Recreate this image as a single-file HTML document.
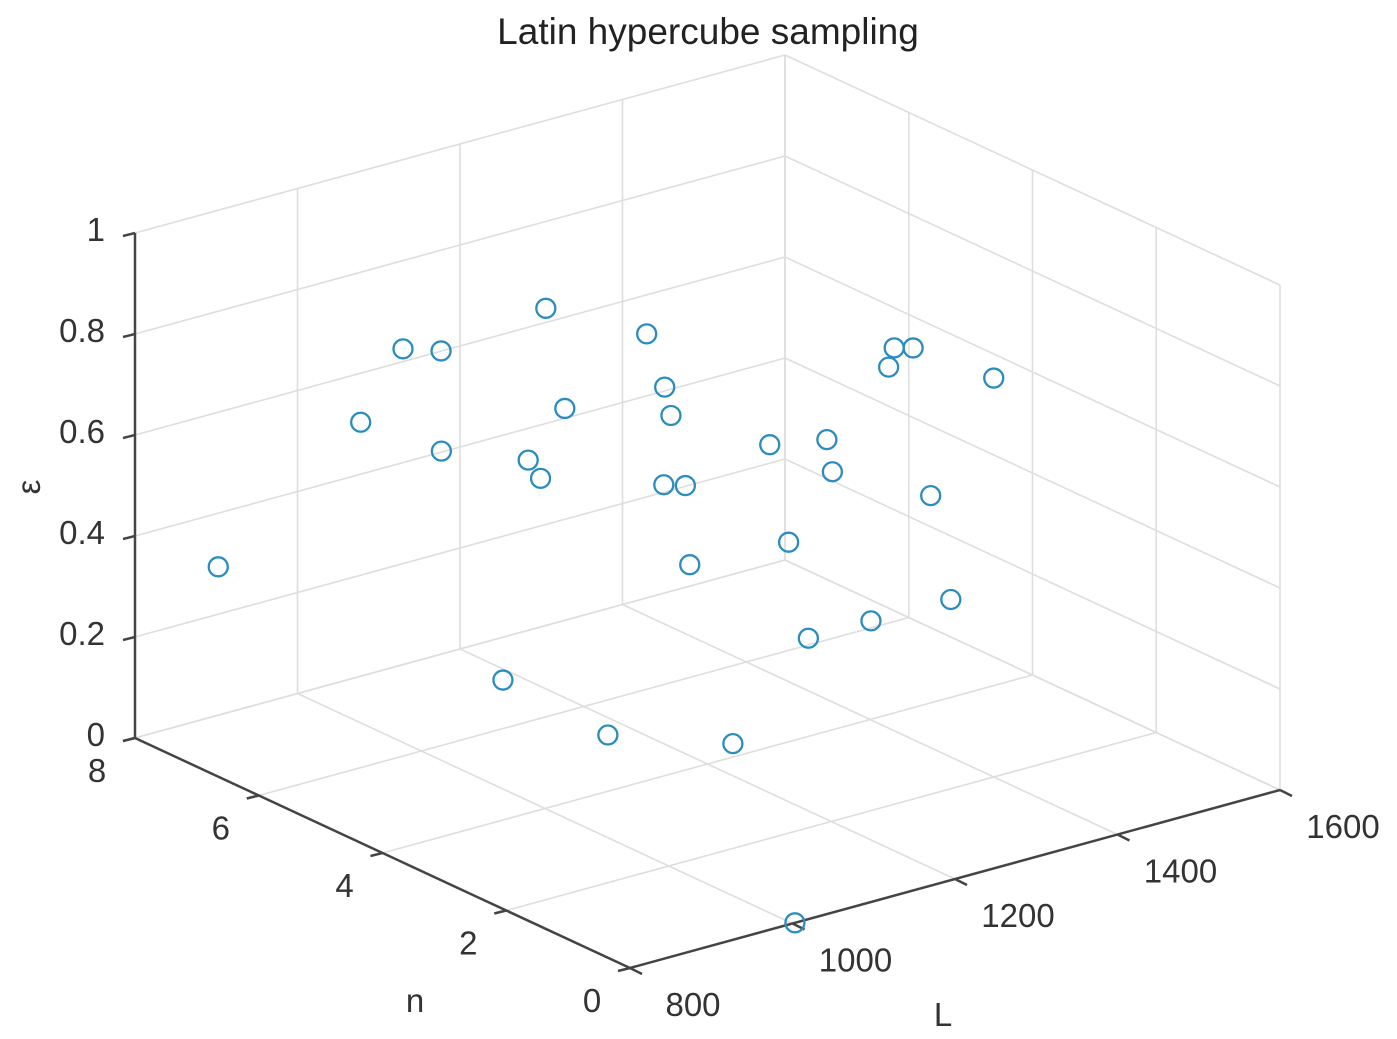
<!DOCTYPE html>
<html><head><meta charset="utf-8"><style>
body{margin:0;background:#fff}
svg{display:block;font-family:"Liberation Sans",sans-serif}
</style></head><body>
<svg id="chart" width="1397" height="1039" viewBox="0 0 1397 1039">
<rect width="1397" height="1039" fill="#fff"/>
<text x="708" y="44" font-size="37" fill="#222" text-anchor="middle">Latin hypercube sampling</text>
<g id="grid"></g><g id="axes"></g><g id="pts"></g>
</svg>
<script>
const lTicks=[800,1000,1200,1400,1600];
const nTicks=[0,2,4,6,8];
const eTicks=[0,0.2,0.4,0.6,0.8,1];
const eLabels=["0","0.2","0.4","0.6","0.8","1"];
const Lvals=[1001,1008,933,1247,895,842,933,1391,1155,827,1025,933,1386,872,904,1368,1286,1506,1178,1247,1514,1362,1400,1231,1469,1523,1050,1131,986,1018,1003];
const Nvals=[4,6.4,4.8,5.6,5.6,3.6,2.8,7.2,4,2,4.4,1.2,6.8,7.6,0.4,5.2,3.2,6,2.4,1.6,4.8,3.2,2,0.8,3.6,5.6,0.4,6.4,2.8,1.2,0];
const Evals=[0.99,0.77,0.89,0.74,0.72,0.80,0.89,0.48,0.71,0.88,0.62,0.83,0.31,0.33,0.73,0.49,0.65,0.33,0.54,0.94,0.64,0.76,0.79,0.70,0.23,0.05,0.52,0.06,0.22,0.28,0.0];
const NS='http://www.w3.org/2000/svg';
function P(L,n,e){const a=(L-800)/800,b=n/8;return [630+650*a-495*b,968-178*a-230*b-505*e];}
function line(g,p,q,c,w,name){const l=document.createElementNS(NS,'line');l.setAttribute('x1',p[0]);l.setAttribute('y1',p[1]);l.setAttribute('x2',q[0]);l.setAttribute('y2',q[1]);l.setAttribute('stroke',c);l.setAttribute('stroke-width',w);


g.appendChild(l);}
function text(g,x,y,s,anchor,name,fs){const t=document.createElementNS(NS,'text');t.setAttribute('x',x);t.setAttribute('y',y);t.setAttribute('font-size',fs||'33');t.setAttribute('fill','#333');t.setAttribute('text-anchor',anchor);t.textContent=s;


g.appendChild(t);return t;}
const grid=document.getElementById('grid'),axes=document.getElementById('axes'),pts=document.getElementById('pts');
const gc='#dedede';
lTicks.forEach(L=>{line(grid,P(L,0,0),P(L,8,0),gc,1.6,'floor-grid-l');line(grid,P(L,8,0),P(L,8,1),gc,1.6,'wall-grid-l');});
nTicks.forEach(n=>{line(grid,P(800,n,0),P(1600,n,0),gc,1.6,'floor-grid-n');line(grid,P(1600,n,0),P(1600,n,1),gc,1.6,'wall-grid-n');});
eTicks.forEach(e=>{line(grid,P(800,8,e),P(1600,8,e),gc,1.6,'wall-grid-e');line(grid,P(1600,8,e),P(1600,0,e),gc,1.6,'side-grid-e');});
const ac='#444';
line(axes,P(800,0,0),P(1600,0,0),ac,2.5,'l-axis');
line(axes,P(800,0,0),P(800,8,0),ac,2.5,'n-axis');
line(axes,P(800,8,0),P(800,8,1),ac,2.5,'e-axis');
lTicks.forEach(L=>{const p=P(L,0,0);line(axes,p,[p[0]+12,p[1]+6],ac,2.5,'l-tick');text(axes,p[0]+63,p[1]+48,String(L),'middle','l-tick-label');});
nTicks.forEach(n=>{const p=P(800,n,0);line(axes,p,[p[0]-12,p[1]+3],ac,2.5,'n-tick');text(axes,p[0]-38,p[1]+44,String(n),'middle','n-tick-label');});
eTicks.forEach((e,i)=>{const p=P(800,8,e);line(axes,p,[p[0]-12,p[1]+3],ac,2.5,'e-tick');text(axes,105,p[1]+8,eLabels[i],'end','e-tick-label');});
text(axes,943,1026,'L','middle','l-axis-title');
text(axes,415,1012,'n','middle','n-axis-title');
const et=text(axes,0,0,'ε','middle','e-axis-title');et.setAttribute('transform','translate(40,487) rotate(-90)');
Lvals.forEach((L,i)=>{const p=P(L,Nvals[i],Evals[i]);const c=document.createElementNS(NS,'circle');c.setAttribute('cx',p[0]);c.setAttribute('cy',p[1]);c.setAttribute('r',9.5);c.setAttribute('fill','none');c.setAttribute('stroke','#2a8cbf');c.setAttribute('stroke-width',2.3);


pts.appendChild(c);});
</script>
</body></html>
